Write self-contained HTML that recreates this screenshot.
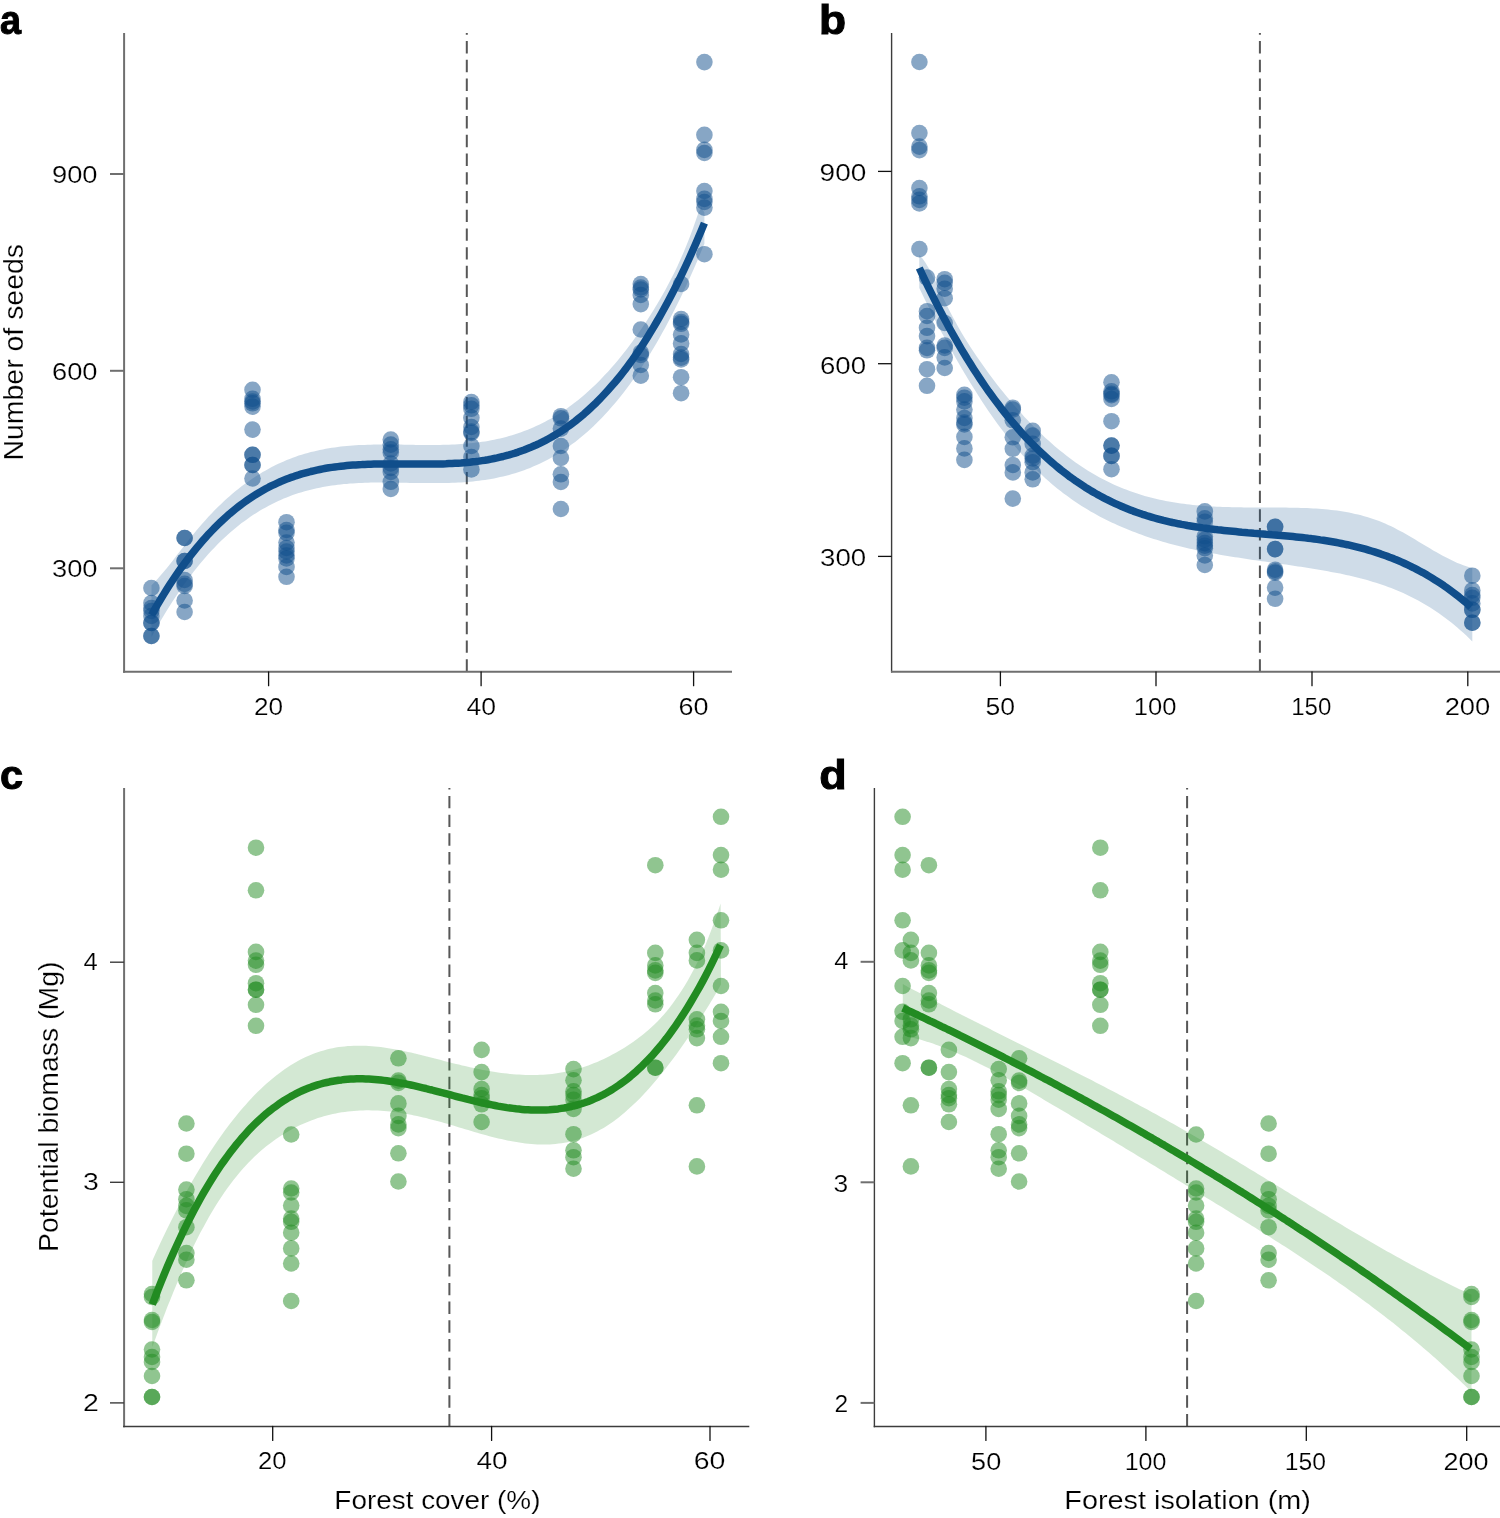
<!DOCTYPE html><html><head><meta charset="utf-8"><style>html,body{margin:0;padding:0;background:#fff;overflow:hidden;}svg{display:block;will-change:transform;}text{font-family:"Liberation Sans",sans-serif;}</style></head><body>
<svg width="1500" height="1518" viewBox="0 0 1500 1518">
<rect width="1500" height="1518" fill="#fff"/>
<line x1="466.8" y1="671.6" x2="466.8" y2="33.0" stroke="#575757" stroke-width="2" stroke-dasharray="12.4 6.33"/>
<path d="M151.5,585.2 L154.5,582.2 L157.5,578.9 L160.5,575.6 L163.5,572.1 L166.5,568.4 L169.5,564.7 L172.5,560.9 L175.5,557.0 L178.5,553.1 L181.5,549.2 L184.6,545.3 L187.6,541.4 L190.6,537.6 L193.6,533.9 L196.6,530.2 L199.6,526.7 L202.6,523.2 L205.6,519.9 L208.6,516.6 L211.6,513.4 L214.6,510.3 L217.6,507.3 L220.6,504.4 L223.6,501.6 L226.6,498.8 L229.6,496.2 L232.6,493.6 L235.6,491.1 L238.6,488.7 L241.6,486.3 L244.7,484.1 L247.7,481.9 L250.7,479.8 L253.7,477.7 L256.7,475.8 L259.7,473.9 L262.7,472.1 L265.7,470.4 L268.7,468.7 L271.7,467.1 L274.7,465.6 L277.7,464.1 L280.7,462.7 L283.7,461.4 L286.7,460.1 L289.7,458.9 L292.7,457.8 L295.7,456.7 L298.7,455.6 L301.7,454.7 L304.7,453.8 L307.8,452.9 L310.8,452.1 L313.8,451.4 L316.8,450.7 L319.8,450.0 L322.8,449.4 L325.8,448.8 L328.8,448.3 L331.8,447.8 L334.8,447.4 L337.8,447.0 L340.8,446.6 L343.8,446.3 L346.8,446.0 L349.8,445.7 L352.8,445.5 L355.8,445.3 L358.8,445.1 L361.8,445.0 L364.8,444.9 L367.9,444.8 L370.9,444.7 L373.9,444.6 L376.9,444.6 L379.9,444.5 L382.9,444.5 L385.9,444.5 L388.9,444.5 L391.9,444.5 L394.9,444.6 L397.9,444.6 L400.9,444.6 L403.9,444.7 L406.9,444.7 L409.9,444.8 L412.9,444.8 L415.9,444.9 L418.9,444.9 L421.9,444.9 L424.9,445.0 L427.9,445.0 L431.0,445.0 L434.0,445.0 L437.0,444.9 L440.0,444.9 L443.0,444.8 L446.0,444.8 L449.0,444.7 L452.0,444.6 L455.0,444.4 L458.0,444.2 L461.0,444.1 L464.0,443.8 L467.0,443.6 L470.0,443.3 L473.0,443.0 L476.0,442.6 L479.0,442.3 L482.0,441.8 L485.0,441.4 L488.0,440.9 L491.1,440.3 L494.1,439.7 L497.1,439.1 L500.1,438.4 L503.1,437.7 L506.1,436.9 L509.1,436.1 L512.1,435.2 L515.1,434.3 L518.1,433.3 L521.1,432.2 L524.1,431.1 L527.1,430.0 L530.1,428.7 L533.1,427.4 L536.1,426.1 L539.1,424.7 L542.1,423.2 L545.1,421.7 L548.1,420.1 L551.2,418.4 L554.2,416.6 L557.2,414.8 L560.2,412.9 L563.2,410.9 L566.2,408.9 L569.2,406.7 L572.2,404.5 L575.2,402.3 L578.2,399.9 L581.2,397.4 L584.2,394.9 L587.2,392.3 L590.2,389.6 L593.2,386.8 L596.2,383.9 L599.2,380.9 L602.2,377.8 L605.2,374.6 L608.2,371.4 L611.2,368.0 L614.3,364.5 L617.3,361.0 L620.3,357.3 L623.3,353.6 L626.3,349.7 L629.3,345.7 L632.3,341.7 L635.3,337.5 L638.3,333.3 L641.3,328.9 L644.3,324.5 L647.3,319.9 L650.3,315.3 L653.3,310.5 L656.3,305.6 L659.3,300.5 L662.3,295.3 L665.3,289.9 L668.3,284.3 L671.3,278.5 L674.4,272.5 L677.4,266.2 L680.4,259.6 L683.4,252.7 L686.4,245.5 L689.4,237.9 L692.4,229.9 L695.4,221.5 L698.4,212.7 L701.4,207.3 L704.4,212.5 L704.4,243.8 L701.4,251.1 L698.4,258.2 L695.4,265.2 L692.4,272.0 L689.4,278.7 L686.4,285.3 L683.4,291.7 L680.4,298.0 L677.4,304.1 L674.4,310.1 L671.3,316.0 L668.3,321.8 L665.3,327.4 L662.3,332.8 L659.3,338.2 L656.3,343.4 L653.3,348.5 L650.3,353.5 L647.3,358.3 L644.3,363.1 L641.3,367.7 L638.3,372.2 L635.3,376.5 L632.3,380.8 L629.3,384.9 L626.3,389.0 L623.3,392.9 L620.3,396.7 L617.3,400.4 L614.3,404.0 L611.2,407.5 L608.2,410.9 L605.2,414.2 L602.2,417.4 L599.2,420.5 L596.2,423.5 L593.2,426.4 L590.2,429.2 L587.2,431.9 L584.2,434.5 L581.2,437.1 L578.2,439.5 L575.2,441.9 L572.2,444.1 L569.2,446.3 L566.2,448.4 L563.2,450.5 L560.2,452.4 L557.2,454.3 L554.2,456.1 L551.2,457.8 L548.1,459.4 L545.1,461.0 L542.1,462.5 L539.1,464.0 L536.1,465.3 L533.1,466.6 L530.1,467.9 L527.1,469.1 L524.1,470.2 L521.1,471.2 L518.1,472.2 L515.1,473.2 L512.1,474.1 L509.1,474.9 L506.1,475.7 L503.1,476.5 L500.1,477.1 L497.1,477.8 L494.1,478.4 L491.1,478.9 L488.0,479.4 L485.0,479.9 L482.0,480.3 L479.0,480.7 L476.0,481.1 L473.0,481.4 L470.0,481.7 L467.0,482.0 L464.0,482.2 L461.0,482.4 L458.0,482.6 L455.0,482.7 L452.0,482.8 L449.0,482.9 L446.0,483.0 L443.0,483.1 L440.0,483.1 L437.0,483.1 L434.0,483.1 L431.0,483.1 L427.9,483.1 L424.9,483.1 L421.9,483.1 L418.9,483.0 L415.9,483.0 L412.9,482.9 L409.9,482.9 L406.9,482.8 L403.9,482.8 L400.9,482.7 L397.9,482.7 L394.9,482.6 L391.9,482.6 L388.9,482.6 L385.9,482.5 L382.9,482.5 L379.9,482.5 L376.9,482.6 L373.9,482.6 L370.9,482.6 L367.9,482.7 L364.8,482.8 L361.8,482.9 L358.8,483.1 L355.8,483.2 L352.8,483.4 L349.8,483.6 L346.8,483.9 L343.8,484.1 L340.8,484.5 L337.8,484.8 L334.8,485.2 L331.8,485.6 L328.8,486.1 L325.8,486.6 L322.8,487.1 L319.8,487.7 L316.8,488.3 L313.8,489.0 L310.8,489.7 L307.8,490.5 L304.7,491.3 L301.7,492.2 L298.7,493.1 L295.7,494.1 L292.7,495.1 L289.7,496.2 L286.7,497.4 L283.7,498.6 L280.7,499.9 L277.7,501.3 L274.7,502.7 L271.7,504.2 L268.7,505.7 L265.7,507.4 L262.7,509.1 L259.7,510.8 L256.7,512.7 L253.7,514.6 L250.7,516.6 L247.7,518.7 L244.7,520.9 L241.6,523.1 L238.6,525.5 L235.6,527.9 L232.6,530.4 L229.6,533.0 L226.6,535.7 L223.6,538.5 L220.6,541.3 L217.6,544.3 L214.6,547.4 L211.6,550.6 L208.6,553.8 L205.6,557.2 L202.6,560.7 L199.6,564.3 L196.6,567.9 L193.6,571.7 L190.6,575.7 L187.6,579.7 L184.6,583.8 L181.5,588.0 L178.5,592.4 L175.5,596.9 L172.5,601.5 L169.5,606.2 L166.5,611.0 L163.5,616.0 L160.5,621.1 L157.5,626.3 L154.5,631.6 L151.5,637.1 Z" fill="#104E8B" fill-opacity="0.2"/>
<g fill="#104E8B" fill-opacity="0.5">
<circle cx="151.4" cy="588.0" r="8.3"/>
<circle cx="151.4" cy="603.0" r="8.3"/>
<circle cx="151.4" cy="608.0" r="8.3"/>
<circle cx="151.4" cy="611.0" r="8.3"/>
<circle cx="151.4" cy="616.0" r="8.3"/>
<circle cx="151.4" cy="623.0" r="8.3"/>
<circle cx="151.4" cy="623.0" r="8.3"/>
<circle cx="151.4" cy="636.0" r="8.3"/>
<circle cx="151.4" cy="636.0" r="8.3"/>
<circle cx="184.6" cy="538.0" r="8.3"/>
<circle cx="184.6" cy="538.0" r="8.3"/>
<circle cx="184.6" cy="561.0" r="8.3"/>
<circle cx="184.6" cy="561.0" r="8.3"/>
<circle cx="184.6" cy="580.0" r="8.3"/>
<circle cx="184.6" cy="583.9" r="8.3"/>
<circle cx="184.6" cy="586.0" r="8.3"/>
<circle cx="184.6" cy="600.5" r="8.3"/>
<circle cx="184.6" cy="612.0" r="8.3"/>
<circle cx="252.5" cy="389.8" r="8.3"/>
<circle cx="252.5" cy="398.8" r="8.3"/>
<circle cx="252.5" cy="401.5" r="8.3"/>
<circle cx="252.5" cy="403.3" r="8.3"/>
<circle cx="252.5" cy="406.6" r="8.3"/>
<circle cx="252.5" cy="429.6" r="8.3"/>
<circle cx="252.5" cy="454.8" r="8.3"/>
<circle cx="252.5" cy="454.8" r="8.3"/>
<circle cx="252.5" cy="465.0" r="8.3"/>
<circle cx="252.5" cy="465.0" r="8.3"/>
<circle cx="252.5" cy="478.5" r="8.3"/>
<circle cx="286.5" cy="522.2" r="8.3"/>
<circle cx="286.5" cy="530.0" r="8.3"/>
<circle cx="286.5" cy="532.8" r="8.3"/>
<circle cx="286.5" cy="542.5" r="8.3"/>
<circle cx="286.5" cy="548.0" r="8.3"/>
<circle cx="286.5" cy="551.5" r="8.3"/>
<circle cx="286.5" cy="555.5" r="8.3"/>
<circle cx="286.5" cy="558.4" r="8.3"/>
<circle cx="286.5" cy="566.9" r="8.3"/>
<circle cx="286.5" cy="576.8" r="8.3"/>
<circle cx="390.8" cy="439.5" r="8.3"/>
<circle cx="390.8" cy="444.6" r="8.3"/>
<circle cx="390.8" cy="449.3" r="8.3"/>
<circle cx="390.8" cy="452.5" r="8.3"/>
<circle cx="390.8" cy="463.5" r="8.3"/>
<circle cx="390.8" cy="468.0" r="8.3"/>
<circle cx="390.8" cy="471.9" r="8.3"/>
<circle cx="390.8" cy="481.8" r="8.3"/>
<circle cx="390.8" cy="489.0" r="8.3"/>
<circle cx="471.4" cy="402.0" r="8.3"/>
<circle cx="471.4" cy="405.3" r="8.3"/>
<circle cx="471.4" cy="408.8" r="8.3"/>
<circle cx="471.4" cy="417.8" r="8.3"/>
<circle cx="471.4" cy="427.0" r="8.3"/>
<circle cx="471.4" cy="431.6" r="8.3"/>
<circle cx="471.4" cy="433.0" r="8.3"/>
<circle cx="471.4" cy="446.0" r="8.3"/>
<circle cx="471.4" cy="457.0" r="8.3"/>
<circle cx="471.4" cy="469.4" r="8.3"/>
<circle cx="560.9" cy="416.2" r="8.3"/>
<circle cx="560.9" cy="418.3" r="8.3"/>
<circle cx="560.9" cy="428.6" r="8.3"/>
<circle cx="560.9" cy="446.0" r="8.3"/>
<circle cx="560.9" cy="458.0" r="8.3"/>
<circle cx="560.9" cy="474.3" r="8.3"/>
<circle cx="560.9" cy="482.0" r="8.3"/>
<circle cx="560.9" cy="509.0" r="8.3"/>
<circle cx="640.8" cy="284.0" r="8.3"/>
<circle cx="640.8" cy="287.5" r="8.3"/>
<circle cx="640.8" cy="289.5" r="8.3"/>
<circle cx="640.8" cy="295.0" r="8.3"/>
<circle cx="640.8" cy="304.1" r="8.3"/>
<circle cx="640.8" cy="329.5" r="8.3"/>
<circle cx="640.8" cy="352.7" r="8.3"/>
<circle cx="640.8" cy="355.0" r="8.3"/>
<circle cx="640.8" cy="365.0" r="8.3"/>
<circle cx="640.8" cy="375.7" r="8.3"/>
<circle cx="681.1" cy="284.0" r="8.3"/>
<circle cx="681.1" cy="319.0" r="8.3"/>
<circle cx="681.1" cy="322.0" r="8.3"/>
<circle cx="681.1" cy="323.8" r="8.3"/>
<circle cx="681.1" cy="334.5" r="8.3"/>
<circle cx="681.1" cy="343.4" r="8.3"/>
<circle cx="681.1" cy="354.0" r="8.3"/>
<circle cx="681.1" cy="357.6" r="8.3"/>
<circle cx="681.1" cy="359.4" r="8.3"/>
<circle cx="681.1" cy="377.2" r="8.3"/>
<circle cx="681.1" cy="393.2" r="8.3"/>
<circle cx="704.4" cy="62.1" r="8.3"/>
<circle cx="704.4" cy="134.9" r="8.3"/>
<circle cx="704.4" cy="149.9" r="8.3"/>
<circle cx="704.4" cy="153.0" r="8.3"/>
<circle cx="704.4" cy="191.0" r="8.3"/>
<circle cx="704.4" cy="198.9" r="8.3"/>
<circle cx="704.4" cy="202.0" r="8.3"/>
<circle cx="704.4" cy="207.6" r="8.3"/>
<circle cx="704.4" cy="254.2" r="8.3"/>
</g>
<path d="M151.5,615.1 L154.5,609.8 L157.5,604.6 L160.5,599.5 L163.5,594.6 L166.5,589.8 L169.5,585.1 L172.5,580.5 L175.5,576.0 L178.5,571.7 L181.5,567.4 L184.6,563.3 L187.6,559.3 L190.6,555.4 L193.6,551.6 L196.6,547.9 L199.6,544.3 L202.6,540.8 L205.6,537.4 L208.6,534.1 L211.6,531.0 L214.6,527.9 L217.6,524.9 L220.6,522.0 L223.6,519.2 L226.6,516.5 L229.6,513.8 L232.6,511.3 L235.6,508.9 L238.6,506.5 L241.6,504.2 L244.7,502.0 L247.7,499.9 L250.7,497.9 L253.7,495.9 L256.7,494.0 L259.7,492.2 L262.7,490.5 L265.7,488.8 L268.7,487.2 L271.7,485.7 L274.7,484.3 L277.7,482.9 L280.7,481.5 L283.7,480.3 L286.7,479.1 L289.7,477.9 L292.7,476.9 L295.7,475.8 L298.7,474.9 L301.7,473.9 L304.7,473.1 L307.8,472.3 L310.8,471.5 L313.8,470.8 L316.8,470.1 L319.8,469.5 L322.8,468.9 L325.8,468.3 L328.8,467.8 L331.8,467.4 L334.8,467.0 L337.8,466.6 L340.8,466.2 L343.8,465.9 L346.8,465.6 L349.8,465.3 L352.8,465.1 L355.8,464.9 L358.8,464.7 L361.8,464.6 L364.8,464.4 L367.9,464.3 L370.9,464.2 L373.9,464.1 L376.9,464.1 L379.9,464.0 L382.9,464.0 L385.9,464.0 L388.9,464.0 L391.9,464.0 L394.9,464.0 L397.9,464.0 L400.9,464.0 L403.9,464.0 L406.9,464.1 L409.9,464.1 L412.9,464.1 L415.9,464.1 L418.9,464.1 L421.9,464.1 L424.9,464.1 L427.9,464.1 L431.0,464.1 L434.0,464.1 L437.0,464.0 L440.0,463.9 L443.0,463.9 L446.0,463.8 L449.0,463.6 L452.0,463.5 L455.0,463.3 L458.0,463.2 L461.0,463.0 L464.0,462.7 L467.0,462.4 L470.0,462.2 L473.0,461.8 L476.0,461.5 L479.0,461.1 L482.0,460.6 L485.0,460.2 L488.0,459.7 L491.1,459.1 L494.1,458.5 L497.1,457.9 L500.1,457.2 L503.1,456.5 L506.1,455.7 L509.1,454.9 L512.1,454.0 L515.1,453.1 L518.1,452.1 L521.1,451.0 L524.1,450.0 L527.1,448.8 L530.1,447.6 L533.1,446.3 L536.1,445.0 L539.1,443.6 L542.1,442.1 L545.1,440.6 L548.1,439.0 L551.2,437.3 L554.2,435.5 L557.2,433.7 L560.2,431.8 L563.2,429.8 L566.2,427.8 L569.2,425.7 L572.2,423.4 L575.2,421.2 L578.2,418.8 L581.2,416.3 L584.2,413.8 L587.2,411.1 L590.2,408.4 L593.2,405.6 L596.2,402.7 L599.2,399.6 L602.2,396.5 L605.2,393.3 L608.2,390.0 L611.2,386.6 L614.3,383.1 L617.3,379.5 L620.3,375.8 L623.3,372.0 L626.3,368.1 L629.3,364.0 L632.3,359.9 L635.3,355.6 L638.3,351.3 L641.3,346.8 L644.3,342.2 L647.3,337.4 L650.3,332.6 L653.3,327.6 L656.3,322.5 L659.3,317.3 L662.3,312.0 L665.3,306.5 L668.3,300.9 L671.3,295.2 L674.4,289.3 L677.4,283.3 L680.4,277.2 L683.4,270.9 L686.4,264.5 L689.4,258.0 L692.4,251.3 L695.4,244.5 L698.4,237.5 L701.4,230.4 L704.4,223.1" fill="none" stroke="#104E8B" stroke-width="7.5" stroke-linecap="butt" stroke-linejoin="round"/>
<line x1="1259.9" y1="671.6" x2="1259.9" y2="33.0" stroke="#575757" stroke-width="2" stroke-dasharray="12.4 6.33"/>
<path d="M919.3,254.9 L922.3,258.3 L925.3,262.4 L928.3,267.4 L931.3,272.9 L934.3,278.8 L937.3,285.1 L940.3,291.5 L943.3,298.0 L946.3,304.3 L949.4,310.4 L952.4,316.2 L955.4,321.8 L958.4,327.2 L961.4,332.4 L964.4,337.4 L967.4,342.3 L970.4,347.0 L973.4,351.5 L976.4,356.0 L979.4,360.3 L982.4,364.6 L985.4,368.8 L988.4,372.9 L991.4,377.0 L994.4,381.0 L997.4,384.9 L1000.4,388.7 L1003.5,392.5 L1006.5,396.2 L1009.5,399.8 L1012.5,403.4 L1015.5,406.8 L1018.5,410.3 L1021.5,413.6 L1024.5,416.9 L1027.5,420.1 L1030.5,423.2 L1033.5,426.3 L1036.5,429.3 L1039.5,432.2 L1042.5,435.1 L1045.5,437.9 L1048.5,440.6 L1051.5,443.3 L1054.5,445.9 L1057.5,448.5 L1060.6,450.9 L1063.6,453.3 L1066.6,455.7 L1069.6,458.0 L1072.6,460.2 L1075.6,462.4 L1078.6,464.4 L1081.6,466.5 L1084.6,468.5 L1087.6,470.4 L1090.6,472.2 L1093.6,474.0 L1096.6,475.7 L1099.6,477.4 L1102.6,479.0 L1105.6,480.6 L1108.6,482.0 L1111.6,483.5 L1114.7,484.9 L1117.7,486.2 L1120.7,487.5 L1123.7,488.7 L1126.7,489.8 L1129.7,491.0 L1132.7,492.0 L1135.7,493.1 L1138.7,494.0 L1141.7,495.0 L1144.7,495.9 L1147.7,496.7 L1150.7,497.5 L1153.7,498.3 L1156.7,499.0 L1159.7,499.7 L1162.7,500.3 L1165.7,500.9 L1168.8,501.5 L1171.8,502.0 L1174.8,502.5 L1177.8,503.0 L1180.8,503.4 L1183.8,503.8 L1186.8,504.2 L1189.8,504.6 L1192.8,504.9 L1195.8,505.2 L1198.8,505.5 L1201.8,505.7 L1204.8,506.0 L1207.8,506.2 L1210.8,506.4 L1213.8,506.5 L1216.8,506.7 L1219.8,506.8 L1222.8,506.9 L1225.9,507.0 L1228.9,507.1 L1231.9,507.2 L1234.9,507.2 L1237.9,507.3 L1240.9,507.3 L1243.9,507.4 L1246.9,507.4 L1249.9,507.4 L1252.9,507.4 L1255.9,507.5 L1258.9,507.5 L1261.9,507.5 L1264.9,507.5 L1267.9,507.5 L1270.9,507.5 L1273.9,507.5 L1276.9,507.5 L1280.0,507.6 L1283.0,507.6 L1286.0,507.6 L1289.0,507.7 L1292.0,507.7 L1295.0,507.8 L1298.0,507.8 L1301.0,507.9 L1304.0,508.0 L1307.0,508.1 L1310.0,508.3 L1313.0,508.4 L1316.0,508.6 L1319.0,508.8 L1322.0,509.0 L1325.0,509.3 L1328.0,509.6 L1331.0,509.9 L1334.0,510.3 L1337.1,510.6 L1340.1,511.1 L1343.1,511.5 L1346.1,512.1 L1349.1,512.6 L1352.1,513.2 L1355.1,513.9 L1358.1,514.6 L1361.1,515.3 L1364.1,516.2 L1367.1,517.0 L1370.1,518.0 L1373.1,519.0 L1376.1,520.0 L1379.1,521.1 L1382.1,522.3 L1385.1,523.6 L1388.1,524.9 L1391.2,526.3 L1394.2,527.8 L1397.2,529.4 L1400.2,531.0 L1403.2,532.6 L1406.2,534.3 L1409.2,536.0 L1412.2,537.8 L1415.2,539.6 L1418.2,541.4 L1421.2,543.2 L1424.2,545.0 L1427.2,546.8 L1430.2,548.6 L1433.2,550.4 L1436.2,552.1 L1439.2,553.8 L1442.2,555.5 L1445.3,557.1 L1448.3,558.6 L1451.3,560.1 L1454.3,561.5 L1457.3,562.9 L1460.3,564.1 L1463.3,565.3 L1466.3,566.3 L1469.3,567.3 L1472.3,568.1 L1472.3,641.4 L1469.3,638.4 L1466.3,635.6 L1463.3,632.8 L1460.3,630.2 L1457.3,627.6 L1454.3,625.0 L1451.3,622.6 L1448.3,620.3 L1445.3,618.0 L1442.2,615.8 L1439.2,613.6 L1436.2,611.6 L1433.2,609.6 L1430.2,607.6 L1427.2,605.8 L1424.2,604.0 L1421.2,602.3 L1418.2,600.6 L1415.2,599.0 L1412.2,597.4 L1409.2,595.9 L1406.2,594.5 L1403.2,593.1 L1400.2,591.8 L1397.2,590.5 L1394.2,589.3 L1391.2,588.1 L1388.1,586.9 L1385.1,585.8 L1382.1,584.8 L1379.1,583.8 L1376.1,582.8 L1373.1,581.9 L1370.1,581.0 L1367.1,580.1 L1364.1,579.3 L1361.1,578.5 L1358.1,577.7 L1355.1,577.0 L1352.1,576.3 L1349.1,575.6 L1346.1,574.9 L1343.1,574.3 L1340.1,573.6 L1337.1,573.0 L1334.0,572.5 L1331.0,571.9 L1328.0,571.3 L1325.0,570.8 L1322.0,570.3 L1319.0,569.7 L1316.0,569.2 L1313.0,568.7 L1310.0,568.3 L1307.0,567.8 L1304.0,567.3 L1301.0,566.8 L1298.0,566.4 L1295.0,565.9 L1292.0,565.5 L1289.0,565.1 L1286.0,564.6 L1283.0,564.2 L1280.0,563.8 L1276.9,563.3 L1273.9,562.9 L1270.9,562.5 L1267.9,562.1 L1264.9,561.6 L1261.9,561.2 L1258.9,560.8 L1255.9,560.3 L1252.9,559.9 L1249.9,559.5 L1246.9,559.0 L1243.9,558.6 L1240.9,558.1 L1237.9,557.6 L1234.9,557.2 L1231.9,556.7 L1228.9,556.2 L1225.9,555.7 L1222.8,555.2 L1219.8,554.7 L1216.8,554.1 L1213.8,553.6 L1210.8,553.0 L1207.8,552.5 L1204.8,551.9 L1201.8,551.3 L1198.8,550.6 L1195.8,550.0 L1192.8,549.3 L1189.8,548.7 L1186.8,548.0 L1183.8,547.3 L1180.8,546.5 L1177.8,545.8 L1174.8,545.0 L1171.8,544.2 L1168.8,543.4 L1165.7,542.5 L1162.7,541.7 L1159.7,540.8 L1156.7,539.8 L1153.7,538.9 L1150.7,537.9 L1147.7,536.9 L1144.7,535.9 L1141.7,534.8 L1138.7,533.7 L1135.7,532.6 L1132.7,531.4 L1129.7,530.3 L1126.7,529.0 L1123.7,527.8 L1120.7,526.5 L1117.7,525.2 L1114.7,523.8 L1111.6,522.4 L1108.6,521.0 L1105.6,519.5 L1102.6,518.0 L1099.6,516.4 L1096.6,514.8 L1093.6,513.1 L1090.6,511.4 L1087.6,509.6 L1084.6,507.8 L1081.6,505.9 L1078.6,504.0 L1075.6,502.0 L1072.6,499.9 L1069.6,497.8 L1066.6,495.6 L1063.6,493.4 L1060.6,491.0 L1057.5,488.7 L1054.5,486.2 L1051.5,483.7 L1048.5,481.0 L1045.5,478.4 L1042.5,475.6 L1039.5,472.7 L1036.5,469.8 L1033.5,466.8 L1030.5,463.7 L1027.5,460.5 L1024.5,457.2 L1021.5,453.9 L1018.5,450.4 L1015.5,446.9 L1012.5,443.2 L1009.5,439.5 L1006.5,435.7 L1003.5,431.8 L1000.4,427.8 L997.4,423.7 L994.4,419.5 L991.4,415.2 L988.4,410.9 L985.4,406.4 L982.4,401.9 L979.4,397.3 L976.4,392.6 L973.4,387.8 L970.4,383.0 L967.4,378.0 L964.4,373.0 L961.4,367.9 L958.4,362.7 L955.4,357.5 L952.4,352.1 L949.4,346.7 L946.3,341.2 L943.3,335.6 L940.3,329.9 L937.3,324.2 L934.3,318.4 L931.3,312.5 L928.3,306.5 L925.3,300.4 L922.3,294.3 L919.3,288.1 Z" fill="#104E8B" fill-opacity="0.2"/>
<g fill="#104E8B" fill-opacity="0.5">
<circle cx="919.4" cy="62.0" r="8.3"/>
<circle cx="919.4" cy="133.1" r="8.3"/>
<circle cx="919.4" cy="146.6" r="8.3"/>
<circle cx="919.4" cy="150.1" r="8.3"/>
<circle cx="919.4" cy="188.0" r="8.3"/>
<circle cx="919.4" cy="196.3" r="8.3"/>
<circle cx="919.4" cy="199.9" r="8.3"/>
<circle cx="919.4" cy="203.4" r="8.3"/>
<circle cx="919.4" cy="249.1" r="8.3"/>
<circle cx="927.0" cy="277.6" r="8.3"/>
<circle cx="927.0" cy="311.2" r="8.3"/>
<circle cx="927.0" cy="316.0" r="8.3"/>
<circle cx="927.0" cy="327.8" r="8.3"/>
<circle cx="927.0" cy="336.1" r="8.3"/>
<circle cx="927.0" cy="347.9" r="8.3"/>
<circle cx="927.0" cy="350.3" r="8.3"/>
<circle cx="927.0" cy="369.2" r="8.3"/>
<circle cx="927.0" cy="385.8" r="8.3"/>
<circle cx="944.7" cy="279.2" r="8.3"/>
<circle cx="944.7" cy="282.8" r="8.3"/>
<circle cx="944.7" cy="288.7" r="8.3"/>
<circle cx="944.7" cy="298.2" r="8.3"/>
<circle cx="944.7" cy="323.0" r="8.3"/>
<circle cx="944.7" cy="345.5" r="8.3"/>
<circle cx="944.7" cy="347.9" r="8.3"/>
<circle cx="944.7" cy="357.4" r="8.3"/>
<circle cx="944.7" cy="368.0" r="8.3"/>
<circle cx="964.4" cy="394.9" r="8.3"/>
<circle cx="964.4" cy="397.7" r="8.3"/>
<circle cx="964.4" cy="401.4" r="8.3"/>
<circle cx="964.4" cy="409.6" r="8.3"/>
<circle cx="964.4" cy="418.0" r="8.3"/>
<circle cx="964.4" cy="422.6" r="8.3"/>
<circle cx="964.4" cy="424.4" r="8.3"/>
<circle cx="964.4" cy="436.9" r="8.3"/>
<circle cx="964.4" cy="448.4" r="8.3"/>
<circle cx="964.4" cy="459.9" r="8.3"/>
<circle cx="1012.8" cy="407.8" r="8.3"/>
<circle cx="1012.8" cy="409.6" r="8.3"/>
<circle cx="1012.8" cy="420.3" r="8.3"/>
<circle cx="1012.8" cy="437.3" r="8.3"/>
<circle cx="1012.8" cy="448.8" r="8.3"/>
<circle cx="1012.8" cy="465.0" r="8.3"/>
<circle cx="1012.8" cy="472.4" r="8.3"/>
<circle cx="1012.8" cy="498.6" r="8.3"/>
<circle cx="1032.7" cy="430.9" r="8.3"/>
<circle cx="1032.7" cy="435.5" r="8.3"/>
<circle cx="1032.7" cy="443.8" r="8.3"/>
<circle cx="1032.7" cy="455.8" r="8.3"/>
<circle cx="1032.7" cy="458.5" r="8.3"/>
<circle cx="1032.7" cy="462.2" r="8.3"/>
<circle cx="1032.7" cy="472.4" r="8.3"/>
<circle cx="1032.7" cy="479.3" r="8.3"/>
<circle cx="1111.5" cy="382.3" r="8.3"/>
<circle cx="1111.5" cy="391.3" r="8.3"/>
<circle cx="1111.5" cy="393.8" r="8.3"/>
<circle cx="1111.5" cy="395.1" r="8.3"/>
<circle cx="1111.5" cy="399.0" r="8.3"/>
<circle cx="1111.5" cy="421.2" r="8.3"/>
<circle cx="1111.5" cy="445.6" r="8.3"/>
<circle cx="1111.5" cy="445.6" r="8.3"/>
<circle cx="1111.5" cy="455.9" r="8.3"/>
<circle cx="1111.5" cy="455.9" r="8.3"/>
<circle cx="1111.5" cy="469.2" r="8.3"/>
<circle cx="1204.8" cy="511.4" r="8.3"/>
<circle cx="1204.8" cy="518.3" r="8.3"/>
<circle cx="1204.8" cy="521.7" r="8.3"/>
<circle cx="1204.8" cy="536.3" r="8.3"/>
<circle cx="1204.8" cy="539.7" r="8.3"/>
<circle cx="1204.8" cy="543.1" r="8.3"/>
<circle cx="1204.8" cy="545.7" r="8.3"/>
<circle cx="1204.8" cy="548.2" r="8.3"/>
<circle cx="1204.8" cy="555.5" r="8.3"/>
<circle cx="1204.8" cy="565.0" r="8.3"/>
<circle cx="1275.1" cy="526.8" r="8.3"/>
<circle cx="1275.1" cy="526.8" r="8.3"/>
<circle cx="1275.1" cy="549.1" r="8.3"/>
<circle cx="1275.1" cy="549.1" r="8.3"/>
<circle cx="1275.1" cy="569.7" r="8.3"/>
<circle cx="1275.1" cy="571.4" r="8.3"/>
<circle cx="1275.1" cy="572.7" r="8.3"/>
<circle cx="1275.1" cy="587.6" r="8.3"/>
<circle cx="1275.1" cy="598.8" r="8.3"/>
<circle cx="1472.3" cy="575.7" r="8.3"/>
<circle cx="1472.3" cy="590.4" r="8.3"/>
<circle cx="1472.3" cy="595.0" r="8.3"/>
<circle cx="1472.3" cy="597.8" r="8.3"/>
<circle cx="1472.3" cy="603.4" r="8.3"/>
<circle cx="1472.3" cy="609.8" r="8.3"/>
<circle cx="1472.3" cy="609.8" r="8.3"/>
<circle cx="1472.3" cy="622.7" r="8.3"/>
<circle cx="1472.3" cy="622.7" r="8.3"/>
</g>
<path d="M919.3,268.0 L922.3,274.5 L925.3,280.9 L928.3,287.2 L931.4,293.4 L934.4,299.4 L937.4,305.4 L940.4,311.2 L943.4,317.0 L946.4,322.6 L949.4,328.2 L952.5,333.6 L955.5,338.9 L958.5,344.2 L961.5,349.3 L964.5,354.3 L967.5,359.3 L970.6,364.1 L973.6,368.9 L976.6,373.6 L979.6,378.1 L982.6,382.6 L985.6,387.0 L988.6,391.3 L991.7,395.5 L994.7,399.6 L997.7,403.6 L1000.7,407.6 L1003.7,411.4 L1006.7,415.2 L1009.7,418.9 L1012.8,422.5 L1015.8,426.0 L1018.8,429.5 L1021.8,432.9 L1024.8,436.2 L1027.8,439.4 L1030.8,442.5 L1033.9,445.6 L1036.9,448.6 L1039.9,451.5 L1042.9,454.3 L1045.9,457.1 L1048.9,459.8 L1051.9,462.4 L1055.0,465.0 L1058.0,467.5 L1061.0,470.0 L1064.0,472.3 L1067.0,474.6 L1070.0,476.9 L1073.1,479.0 L1076.1,481.2 L1079.1,483.2 L1082.1,485.2 L1085.1,487.2 L1088.1,489.0 L1091.1,490.9 L1094.2,492.6 L1097.2,494.4 L1100.2,496.0 L1103.2,497.6 L1106.2,499.2 L1109.2,500.7 L1112.2,502.2 L1115.3,503.6 L1118.3,504.9 L1121.3,506.2 L1124.3,507.5 L1127.3,508.7 L1130.3,509.9 L1133.3,511.1 L1136.4,512.2 L1139.4,513.2 L1142.4,514.3 L1145.4,515.2 L1148.4,516.2 L1151.4,517.1 L1154.5,518.0 L1157.5,518.8 L1160.5,519.6 L1163.5,520.4 L1166.5,521.1 L1169.5,521.8 L1172.5,522.5 L1175.6,523.1 L1178.6,523.8 L1181.6,524.4 L1184.6,524.9 L1187.6,525.5 L1190.6,526.0 L1193.6,526.5 L1196.7,527.0 L1199.7,527.4 L1202.7,527.9 L1205.7,528.3 L1208.7,528.7 L1211.7,529.1 L1214.7,529.4 L1217.8,529.8 L1220.8,530.1 L1223.8,530.4 L1226.8,530.7 L1229.8,531.0 L1232.8,531.3 L1235.8,531.6 L1238.9,531.9 L1241.9,532.2 L1244.9,532.4 L1247.9,532.7 L1250.9,532.9 L1253.9,533.2 L1257.0,533.4 L1260.0,533.7 L1263.0,533.9 L1266.0,534.2 L1269.0,534.4 L1272.0,534.7 L1275.0,534.9 L1278.1,535.2 L1281.1,535.4 L1284.1,535.7 L1287.1,536.0 L1290.1,536.3 L1293.1,536.6 L1296.1,536.9 L1299.2,537.2 L1302.2,537.5 L1305.2,537.9 L1308.2,538.3 L1311.2,538.6 L1314.2,539.0 L1317.2,539.4 L1320.3,539.9 L1323.3,540.3 L1326.3,540.8 L1329.3,541.3 L1332.3,541.8 L1335.3,542.3 L1338.4,542.9 L1341.4,543.5 L1344.4,544.1 L1347.4,544.7 L1350.4,545.4 L1353.4,546.1 L1356.4,546.8 L1359.5,547.6 L1362.5,548.4 L1365.5,549.2 L1368.5,550.1 L1371.5,551.0 L1374.5,551.9 L1377.5,552.9 L1380.6,553.9 L1383.6,555.0 L1386.6,556.0 L1389.6,557.2 L1392.6,558.3 L1395.6,559.6 L1398.6,560.8 L1401.7,562.1 L1404.7,563.5 L1407.7,564.9 L1410.7,566.3 L1413.7,567.8 L1416.7,569.4 L1419.7,571.0 L1422.8,572.6 L1425.8,574.3 L1428.8,576.1 L1431.8,577.9 L1434.8,579.8 L1437.8,581.7 L1440.9,583.7 L1443.9,585.7 L1446.9,587.8 L1449.9,590.0 L1452.9,592.2 L1455.9,594.5 L1458.9,596.8 L1462.0,599.3 L1465.0,601.7 L1468.0,604.3 L1471.0,606.9" fill="none" stroke="#104E8B" stroke-width="7.5" stroke-linecap="butt" stroke-linejoin="round"/>
<line x1="449.4" y1="1426.4" x2="449.4" y2="788.0" stroke="#575757" stroke-width="2" stroke-dasharray="12.4 6.33"/>
<path d="M152.3,1260.7 L155.3,1254.0 L158.3,1247.5 L161.3,1241.0 L164.3,1234.7 L167.3,1228.5 L170.3,1222.4 L173.3,1216.4 L176.4,1210.6 L179.4,1204.8 L182.4,1199.1 L185.4,1193.6 L188.4,1188.1 L191.4,1182.8 L194.4,1177.6 L197.4,1172.4 L200.4,1167.4 L203.4,1162.5 L206.4,1157.7 L209.4,1153.0 L212.4,1148.4 L215.4,1144.0 L218.5,1139.6 L221.5,1135.3 L224.5,1131.1 L227.5,1127.1 L230.5,1123.1 L233.5,1119.3 L236.5,1115.5 L239.5,1111.8 L242.5,1108.3 L245.5,1104.9 L248.5,1101.5 L251.5,1098.3 L254.5,1095.1 L257.5,1092.1 L260.5,1089.2 L263.6,1086.3 L266.6,1083.6 L269.6,1081.0 L272.6,1078.4 L275.6,1076.0 L278.6,1073.7 L281.6,1071.4 L284.6,1069.3 L287.6,1067.3 L290.6,1065.3 L293.6,1063.5 L296.6,1061.7 L299.6,1060.1 L302.6,1058.5 L305.7,1057.1 L308.7,1055.7 L311.7,1054.5 L314.7,1053.3 L317.7,1052.2 L320.7,1051.3 L323.7,1050.4 L326.7,1049.6 L329.7,1048.8 L332.7,1048.2 L335.7,1047.6 L338.7,1047.1 L341.7,1046.7 L344.7,1046.4 L347.7,1046.1 L350.8,1045.9 L353.8,1045.8 L356.8,1045.7 L359.8,1045.7 L362.8,1045.7 L365.8,1045.8 L368.8,1046.0 L371.8,1046.2 L374.8,1046.5 L377.8,1046.8 L380.8,1047.1 L383.8,1047.5 L386.8,1047.9 L389.8,1048.4 L392.9,1048.9 L395.9,1049.5 L398.9,1050.0 L401.9,1050.6 L404.9,1051.3 L407.9,1051.9 L410.9,1052.6 L413.9,1053.3 L416.9,1054.0 L419.9,1054.7 L422.9,1055.5 L425.9,1056.2 L428.9,1057.0 L431.9,1057.8 L434.9,1058.6 L438.0,1059.3 L441.0,1060.1 L444.0,1060.9 L447.0,1061.7 L450.0,1062.4 L453.0,1063.2 L456.0,1063.9 L459.0,1064.6 L462.0,1065.4 L465.0,1066.1 L468.0,1066.8 L471.0,1067.4 L474.0,1068.1 L477.0,1068.7 L480.0,1069.3 L483.1,1069.9 L486.1,1070.5 L489.1,1071.0 L492.1,1071.5 L495.1,1072.0 L498.1,1072.4 L501.1,1072.9 L504.1,1073.2 L507.1,1073.6 L510.1,1073.9 L513.1,1074.2 L516.1,1074.4 L519.1,1074.6 L522.1,1074.8 L525.2,1074.9 L528.2,1075.0 L531.2,1075.0 L534.2,1075.0 L537.2,1075.0 L540.2,1074.8 L543.2,1074.7 L546.2,1074.5 L549.2,1074.2 L552.2,1073.9 L555.2,1073.5 L558.2,1073.1 L561.2,1072.6 L564.2,1072.0 L567.2,1071.4 L570.3,1070.7 L573.3,1070.0 L576.3,1069.2 L579.3,1068.3 L582.3,1067.4 L585.3,1066.4 L588.3,1065.4 L591.3,1064.3 L594.3,1063.1 L597.3,1061.9 L600.3,1060.5 L603.3,1059.2 L606.3,1057.7 L609.3,1056.2 L612.4,1054.6 L615.4,1053.0 L618.4,1051.3 L621.4,1049.5 L624.4,1047.7 L627.4,1045.7 L630.4,1043.7 L633.4,1041.7 L636.4,1039.5 L639.4,1037.3 L642.4,1034.9 L645.4,1032.5 L648.4,1029.9 L651.4,1027.2 L654.4,1024.4 L657.5,1021.4 L660.5,1018.2 L663.5,1014.9 L666.5,1011.4 L669.5,1007.7 L672.5,1003.8 L675.5,999.6 L678.5,995.3 L681.5,990.8 L684.5,986.0 L687.5,980.9 L690.5,975.6 L693.5,970.0 L696.5,964.1 L699.6,957.9 L702.6,951.3 L705.6,944.4 L708.6,937.0 L711.6,929.3 L714.6,921.2 L717.6,912.6 L720.6,903.6 L721.0,984.6 L718.0,989.8 L715.0,994.9 L712.0,1000.0 L709.0,1004.9 L706.0,1009.8 L702.9,1014.7 L699.9,1019.5 L696.9,1024.2 L693.9,1028.8 L690.9,1033.4 L687.9,1037.8 L684.9,1042.2 L681.9,1046.6 L678.9,1050.8 L675.9,1055.0 L672.9,1059.1 L669.8,1063.1 L666.8,1067.0 L663.8,1070.9 L660.8,1074.6 L657.8,1078.3 L654.8,1081.8 L651.8,1085.3 L648.8,1088.7 L645.8,1092.0 L642.8,1095.2 L639.8,1098.4 L636.7,1101.4 L633.7,1104.3 L630.7,1107.1 L627.7,1109.8 L624.7,1112.5 L621.7,1115.0 L618.7,1117.4 L615.7,1119.7 L612.7,1121.9 L609.7,1124.0 L606.7,1126.0 L603.6,1127.9 L600.6,1129.6 L597.6,1131.3 L594.6,1132.8 L591.6,1134.3 L588.6,1135.6 L585.6,1136.8 L582.6,1138.0 L579.6,1139.0 L576.6,1139.9 L573.6,1140.7 L570.6,1141.5 L567.5,1142.2 L564.5,1142.7 L561.5,1143.2 L558.5,1143.6 L555.5,1143.9 L552.5,1144.2 L549.5,1144.4 L546.5,1144.5 L543.5,1144.5 L540.5,1144.5 L537.5,1144.4 L534.4,1144.2 L531.4,1144.0 L528.4,1143.8 L525.4,1143.4 L522.4,1143.0 L519.4,1142.6 L516.4,1142.1 L513.4,1141.6 L510.4,1141.1 L507.4,1140.5 L504.4,1139.8 L501.3,1139.1 L498.3,1138.4 L495.3,1137.7 L492.3,1136.9 L489.3,1136.2 L486.3,1135.3 L483.3,1134.5 L480.3,1133.7 L477.3,1132.8 L474.3,1131.9 L471.3,1131.0 L468.2,1130.1 L465.2,1129.2 L462.2,1128.3 L459.2,1127.4 L456.2,1126.5 L453.2,1125.6 L450.2,1124.7 L447.2,1123.8 L444.2,1123.0 L441.2,1122.1 L438.2,1121.3 L435.1,1120.5 L432.1,1119.7 L429.1,1118.9 L426.1,1118.1 L423.1,1117.4 L420.1,1116.7 L417.1,1116.0 L414.1,1115.4 L411.1,1114.8 L408.1,1114.2 L405.1,1113.7 L402.0,1113.2 L399.0,1112.7 L396.0,1112.3 L393.0,1111.9 L390.0,1111.6 L387.0,1111.3 L384.0,1111.0 L381.0,1110.8 L378.0,1110.6 L375.0,1110.5 L372.0,1110.4 L368.9,1110.3 L365.9,1110.3 L362.9,1110.4 L359.9,1110.5 L356.9,1110.7 L353.9,1110.9 L350.9,1111.2 L347.9,1111.5 L344.9,1111.9 L341.9,1112.3 L338.9,1112.8 L335.8,1113.4 L332.8,1114.0 L329.8,1114.7 L326.8,1115.5 L323.8,1116.3 L320.8,1117.2 L317.8,1118.1 L314.8,1119.2 L311.8,1120.3 L308.8,1121.4 L305.8,1122.7 L302.7,1124.0 L299.7,1125.3 L296.7,1126.8 L293.7,1128.3 L290.7,1130.0 L287.7,1131.7 L284.7,1133.4 L281.7,1135.3 L278.7,1137.2 L275.7,1139.3 L272.7,1141.4 L269.7,1143.7 L266.6,1146.0 L263.6,1148.5 L260.6,1151.1 L257.6,1153.8 L254.6,1156.6 L251.6,1159.5 L248.6,1162.6 L245.6,1165.8 L242.6,1169.1 L239.6,1172.6 L236.6,1176.3 L233.5,1180.0 L230.5,1184.0 L227.5,1188.1 L224.5,1192.3 L221.5,1196.7 L218.5,1201.3 L215.5,1206.1 L212.5,1211.0 L209.5,1216.1 L206.5,1221.4 L203.5,1226.9 L200.4,1232.6 L197.4,1238.5 L194.4,1244.6 L191.4,1250.8 L188.4,1257.3 L185.4,1263.9 L182.4,1270.7 L179.4,1277.7 L176.4,1284.8 L173.4,1292.1 L170.4,1299.5 L167.3,1307.1 L164.3,1314.9 L161.3,1322.7 L158.3,1330.7 L155.3,1338.9 L152.3,1347.1 Z" fill="#228B22" fill-opacity="0.2"/>
<g fill="#228B22" fill-opacity="0.5">
<circle cx="152.0" cy="1294.0" r="8.3"/>
<circle cx="152.0" cy="1297.0" r="8.3"/>
<circle cx="152.0" cy="1320.0" r="8.3"/>
<circle cx="152.0" cy="1322.0" r="8.3"/>
<circle cx="152.0" cy="1349.5" r="8.3"/>
<circle cx="152.0" cy="1357.0" r="8.3"/>
<circle cx="152.0" cy="1362.0" r="8.3"/>
<circle cx="152.0" cy="1376.0" r="8.3"/>
<circle cx="152.0" cy="1397.0" r="8.3"/>
<circle cx="152.0" cy="1397.0" r="8.3"/>
<circle cx="186.4" cy="1123.5" r="8.3"/>
<circle cx="186.4" cy="1153.7" r="8.3"/>
<circle cx="186.4" cy="1189.6" r="8.3"/>
<circle cx="186.4" cy="1199.2" r="8.3"/>
<circle cx="186.4" cy="1205.9" r="8.3"/>
<circle cx="186.4" cy="1210.4" r="8.3"/>
<circle cx="186.4" cy="1227.2" r="8.3"/>
<circle cx="186.4" cy="1253.0" r="8.3"/>
<circle cx="186.4" cy="1259.7" r="8.3"/>
<circle cx="186.4" cy="1280.3" r="8.3"/>
<circle cx="256.0" cy="847.7" r="8.3"/>
<circle cx="256.0" cy="890.3" r="8.3"/>
<circle cx="256.0" cy="951.9" r="8.3"/>
<circle cx="256.0" cy="960.6" r="8.3"/>
<circle cx="256.0" cy="964.8" r="8.3"/>
<circle cx="256.0" cy="983.2" r="8.3"/>
<circle cx="256.0" cy="989.7" r="8.3"/>
<circle cx="256.0" cy="989.7" r="8.3"/>
<circle cx="256.0" cy="1004.8" r="8.3"/>
<circle cx="256.0" cy="1025.8" r="8.3"/>
<circle cx="291.2" cy="1134.5" r="8.3"/>
<circle cx="291.2" cy="1188.5" r="8.3"/>
<circle cx="291.2" cy="1192.5" r="8.3"/>
<circle cx="291.2" cy="1205.5" r="8.3"/>
<circle cx="291.2" cy="1218.5" r="8.3"/>
<circle cx="291.2" cy="1221.8" r="8.3"/>
<circle cx="291.2" cy="1232.7" r="8.3"/>
<circle cx="291.2" cy="1248.4" r="8.3"/>
<circle cx="291.2" cy="1263.5" r="8.3"/>
<circle cx="291.2" cy="1301.0" r="8.3"/>
<circle cx="398.4" cy="1058.3" r="8.3"/>
<circle cx="398.4" cy="1080.6" r="8.3"/>
<circle cx="398.4" cy="1082.9" r="8.3"/>
<circle cx="398.4" cy="1103.4" r="8.3"/>
<circle cx="398.4" cy="1115.9" r="8.3"/>
<circle cx="398.4" cy="1124.4" r="8.3"/>
<circle cx="398.4" cy="1128.1" r="8.3"/>
<circle cx="398.4" cy="1153.3" r="8.3"/>
<circle cx="398.4" cy="1181.5" r="8.3"/>
<circle cx="481.6" cy="1049.9" r="8.3"/>
<circle cx="481.6" cy="1072.1" r="8.3"/>
<circle cx="481.6" cy="1089.0" r="8.3"/>
<circle cx="481.6" cy="1095.1" r="8.3"/>
<circle cx="481.6" cy="1098.2" r="8.3"/>
<circle cx="481.6" cy="1104.3" r="8.3"/>
<circle cx="481.6" cy="1122.0" r="8.3"/>
<circle cx="573.5" cy="1069.1" r="8.3"/>
<circle cx="573.5" cy="1080.3" r="8.3"/>
<circle cx="573.5" cy="1091.3" r="8.3"/>
<circle cx="573.5" cy="1095.1" r="8.3"/>
<circle cx="573.5" cy="1099.7" r="8.3"/>
<circle cx="573.5" cy="1108.9" r="8.3"/>
<circle cx="573.5" cy="1134.2" r="8.3"/>
<circle cx="573.5" cy="1150.3" r="8.3"/>
<circle cx="573.5" cy="1157.2" r="8.3"/>
<circle cx="573.5" cy="1168.7" r="8.3"/>
<circle cx="655.3" cy="865.2" r="8.3"/>
<circle cx="655.3" cy="952.9" r="8.3"/>
<circle cx="655.3" cy="965.4" r="8.3"/>
<circle cx="655.3" cy="970.4" r="8.3"/>
<circle cx="655.3" cy="972.9" r="8.3"/>
<circle cx="655.3" cy="993.0" r="8.3"/>
<circle cx="655.3" cy="1000.5" r="8.3"/>
<circle cx="655.3" cy="1004.3" r="8.3"/>
<circle cx="655.3" cy="1067.7" r="8.3"/>
<circle cx="655.3" cy="1067.7" r="8.3"/>
<circle cx="696.9" cy="939.8" r="8.3"/>
<circle cx="696.9" cy="952.9" r="8.3"/>
<circle cx="696.9" cy="960.4" r="8.3"/>
<circle cx="696.9" cy="1019.3" r="8.3"/>
<circle cx="696.9" cy="1025.6" r="8.3"/>
<circle cx="696.9" cy="1029.3" r="8.3"/>
<circle cx="696.9" cy="1038.1" r="8.3"/>
<circle cx="696.9" cy="1105.3" r="8.3"/>
<circle cx="696.9" cy="1166.4" r="8.3"/>
<circle cx="721.0" cy="816.8" r="8.3"/>
<circle cx="721.0" cy="855.1" r="8.3"/>
<circle cx="721.0" cy="869.7" r="8.3"/>
<circle cx="721.0" cy="920.3" r="8.3"/>
<circle cx="721.0" cy="950.4" r="8.3"/>
<circle cx="721.0" cy="986.0" r="8.3"/>
<circle cx="721.0" cy="1011.8" r="8.3"/>
<circle cx="721.0" cy="1021.0" r="8.3"/>
<circle cx="721.0" cy="1036.8" r="8.3"/>
<circle cx="721.0" cy="1063.2" r="8.3"/>
</g>
<path d="M152.3,1304.5 L155.3,1296.6 L158.3,1288.9 L161.3,1281.4 L164.3,1274.0 L167.3,1266.8 L170.3,1259.8 L173.3,1253.0 L176.4,1246.3 L179.4,1239.7 L182.4,1233.4 L185.4,1227.2 L188.4,1221.1 L191.4,1215.2 L194.4,1209.5 L197.4,1203.9 L200.4,1198.5 L203.4,1193.2 L206.4,1188.1 L209.4,1183.1 L212.4,1178.2 L215.4,1173.5 L218.4,1169.0 L221.4,1164.5 L224.5,1160.2 L227.5,1156.1 L230.5,1152.1 L233.5,1148.2 L236.5,1144.4 L239.5,1140.8 L242.5,1137.2 L245.5,1133.9 L248.5,1130.6 L251.5,1127.4 L254.5,1124.4 L257.5,1121.5 L260.5,1118.7 L263.5,1116.0 L266.5,1113.4 L269.5,1111.0 L272.6,1108.6 L275.6,1106.4 L278.6,1104.2 L281.6,1102.2 L284.6,1100.2 L287.6,1098.4 L290.6,1096.6 L293.6,1095.0 L296.6,1093.4 L299.6,1091.9 L302.6,1090.5 L305.6,1089.2 L308.6,1088.0 L311.6,1086.9 L314.6,1085.9 L317.6,1084.9 L320.7,1084.0 L323.7,1083.2 L326.7,1082.5 L329.7,1081.8 L332.7,1081.2 L335.7,1080.7 L338.7,1080.2 L341.7,1079.9 L344.7,1079.5 L347.7,1079.3 L350.7,1079.1 L353.7,1078.9 L356.7,1078.8 L359.7,1078.8 L362.7,1078.8 L365.8,1078.9 L368.8,1079.0 L371.8,1079.2 L374.8,1079.4 L377.8,1079.7 L380.8,1080.0 L383.8,1080.4 L386.8,1080.8 L389.8,1081.2 L392.8,1081.6 L395.8,1082.1 L398.8,1082.7 L401.8,1083.2 L404.8,1083.8 L407.8,1084.4 L410.8,1085.0 L413.9,1085.7 L416.9,1086.4 L419.9,1087.1 L422.9,1087.8 L425.9,1088.5 L428.9,1089.3 L431.9,1090.0 L434.9,1090.8 L437.9,1091.6 L440.9,1092.4 L443.9,1093.1 L446.9,1093.9 L449.9,1094.7 L452.9,1095.5 L455.9,1096.3 L458.9,1097.1 L462.0,1097.9 L465.0,1098.6 L468.0,1099.4 L471.0,1100.1 L474.0,1100.9 L477.0,1101.6 L480.0,1102.3 L483.0,1103.0 L486.0,1103.7 L489.0,1104.3 L492.0,1104.9 L495.0,1105.5 L498.0,1106.1 L501.0,1106.6 L504.0,1107.1 L507.0,1107.6 L510.1,1108.0 L513.1,1108.4 L516.1,1108.8 L519.1,1109.1 L522.1,1109.4 L525.1,1109.7 L528.1,1109.8 L531.1,1110.0 L534.1,1110.1 L537.1,1110.1 L540.1,1110.1 L543.1,1110.1 L546.1,1109.9 L549.1,1109.8 L552.1,1109.5 L555.2,1109.2 L558.2,1108.9 L561.2,1108.4 L564.2,1108.0 L567.2,1107.4 L570.2,1106.8 L573.2,1106.0 L576.2,1105.3 L579.2,1104.4 L582.2,1103.5 L585.2,1102.5 L588.2,1101.4 L591.2,1100.2 L594.2,1098.9 L597.2,1097.6 L600.2,1096.1 L603.3,1094.6 L606.3,1093.0 L609.3,1091.3 L612.3,1089.5 L615.3,1087.5 L618.3,1085.5 L621.3,1083.4 L624.3,1081.2 L627.3,1078.9 L630.3,1076.5 L633.3,1073.9 L636.3,1071.3 L639.3,1068.5 L642.3,1065.7 L645.3,1062.7 L648.3,1059.6 L651.4,1056.4 L654.4,1053.0 L657.4,1049.5 L660.4,1046.0 L663.4,1042.2 L666.4,1038.4 L669.4,1034.4 L672.4,1030.3 L675.4,1026.1 L678.4,1021.7 L681.4,1017.2 L684.4,1012.5 L687.4,1007.7 L690.4,1002.8 L693.4,997.7 L696.4,992.5 L699.5,987.1 L702.5,981.6 L705.5,975.9 L708.5,970.1 L711.5,964.1 L714.5,957.9 L717.5,951.6 L720.5,945.2" fill="none" stroke="#228B22" stroke-width="7.5" stroke-linecap="butt" stroke-linejoin="round"/>
<line x1="1187.1" y1="1426.4" x2="1187.1" y2="788.0" stroke="#575757" stroke-width="2" stroke-dasharray="12.4 6.33"/>
<path d="M902.8,984.1 L905.8,985.7 L908.8,987.4 L911.8,989.0 L914.8,990.5 L917.8,992.1 L920.9,993.7 L923.9,995.3 L926.9,996.9 L929.9,998.4 L932.9,1000.0 L935.9,1001.6 L938.9,1003.1 L941.9,1004.7 L944.9,1006.2 L947.9,1007.8 L950.9,1009.3 L954.0,1010.9 L957.0,1012.4 L960.0,1013.9 L963.0,1015.5 L966.0,1017.0 L969.0,1018.5 L972.0,1020.0 L975.0,1021.6 L978.0,1023.1 L981.0,1024.6 L984.0,1026.1 L987.1,1027.6 L990.1,1029.1 L993.1,1030.7 L996.1,1032.2 L999.1,1033.7 L1002.1,1035.2 L1005.1,1036.7 L1008.1,1038.2 L1011.1,1039.7 L1014.1,1041.2 L1017.1,1042.7 L1020.2,1044.2 L1023.2,1045.7 L1026.2,1047.2 L1029.2,1048.7 L1032.2,1050.2 L1035.2,1051.7 L1038.2,1053.2 L1041.2,1054.7 L1044.2,1056.2 L1047.2,1057.7 L1050.2,1059.3 L1053.2,1060.8 L1056.3,1062.3 L1059.3,1063.8 L1062.3,1065.3 L1065.3,1066.8 L1068.3,1068.3 L1071.3,1069.9 L1074.3,1071.4 L1077.3,1072.9 L1080.3,1074.5 L1083.3,1076.0 L1086.3,1077.5 L1089.4,1079.1 L1092.4,1080.6 L1095.4,1082.2 L1098.4,1083.7 L1101.4,1085.3 L1104.4,1086.8 L1107.4,1088.4 L1110.4,1090.0 L1113.4,1091.5 L1116.4,1093.1 L1119.4,1094.7 L1122.5,1096.3 L1125.5,1097.9 L1128.5,1099.5 L1131.5,1101.1 L1134.5,1102.7 L1137.5,1104.3 L1140.5,1105.9 L1143.5,1107.5 L1146.5,1109.1 L1149.5,1110.8 L1152.5,1112.4 L1155.6,1114.1 L1158.6,1115.7 L1161.6,1117.4 L1164.6,1119.1 L1167.6,1120.7 L1170.6,1122.4 L1173.6,1124.1 L1176.6,1125.8 L1179.6,1127.5 L1182.6,1129.2 L1185.6,1130.9 L1188.7,1132.7 L1191.7,1134.4 L1194.7,1136.2 L1197.7,1137.9 L1200.7,1139.7 L1203.7,1141.4 L1206.7,1143.2 L1209.7,1145.0 L1212.7,1146.7 L1215.7,1148.5 L1218.7,1150.3 L1221.8,1152.1 L1224.8,1153.9 L1227.8,1155.7 L1230.8,1157.5 L1233.8,1159.3 L1236.8,1161.1 L1239.8,1163.0 L1242.8,1164.8 L1245.8,1166.6 L1248.8,1168.4 L1251.8,1170.3 L1254.9,1172.1 L1257.9,1173.9 L1260.9,1175.8 L1263.9,1177.6 L1266.9,1179.4 L1269.9,1181.3 L1272.9,1183.1 L1275.9,1185.0 L1278.9,1186.8 L1281.9,1188.6 L1284.9,1190.5 L1288.0,1192.3 L1291.0,1194.2 L1294.0,1196.0 L1297.0,1197.8 L1300.0,1199.7 L1303.0,1201.5 L1306.0,1203.3 L1309.0,1205.2 L1312.0,1207.0 L1315.0,1208.8 L1318.0,1210.7 L1321.1,1212.5 L1324.1,1214.3 L1327.1,1216.1 L1330.1,1217.9 L1333.1,1219.7 L1336.1,1221.5 L1339.1,1223.3 L1342.1,1225.1 L1345.1,1226.9 L1348.1,1228.7 L1351.1,1230.5 L1354.1,1232.3 L1357.2,1234.0 L1360.2,1235.8 L1363.2,1237.6 L1366.2,1239.3 L1369.2,1241.0 L1372.2,1242.8 L1375.2,1244.5 L1378.2,1246.2 L1381.2,1248.0 L1384.2,1249.7 L1387.2,1251.4 L1390.3,1253.1 L1393.3,1254.7 L1396.3,1256.4 L1399.3,1258.1 L1402.3,1259.7 L1405.3,1261.4 L1408.3,1263.0 L1411.3,1264.7 L1414.3,1266.3 L1417.3,1267.9 L1420.3,1269.5 L1423.4,1271.1 L1426.4,1272.6 L1429.4,1274.2 L1432.4,1275.7 L1435.4,1277.3 L1438.4,1278.8 L1441.4,1280.3 L1444.4,1281.8 L1447.4,1283.3 L1450.4,1284.8 L1453.4,1286.3 L1456.5,1287.7 L1459.5,1289.2 L1462.5,1290.6 L1465.5,1292.0 L1468.5,1293.4 L1471.5,1294.8 L1471.5,1391.9 L1468.5,1389.0 L1465.5,1386.1 L1462.5,1383.2 L1459.5,1380.3 L1456.5,1377.5 L1453.4,1374.7 L1450.4,1371.9 L1447.4,1369.2 L1444.4,1366.4 L1441.4,1363.7 L1438.4,1361.0 L1435.4,1358.3 L1432.4,1355.7 L1429.4,1353.1 L1426.4,1350.5 L1423.4,1347.9 L1420.3,1345.3 L1417.3,1342.8 L1414.3,1340.3 L1411.3,1337.8 L1408.3,1335.3 L1405.3,1332.8 L1402.3,1330.4 L1399.3,1327.9 L1396.3,1325.5 L1393.3,1323.1 L1390.3,1320.8 L1387.2,1318.4 L1384.2,1316.1 L1381.2,1313.8 L1378.2,1311.5 L1375.2,1309.2 L1372.2,1306.9 L1369.2,1304.6 L1366.2,1302.4 L1363.2,1300.2 L1360.2,1298.0 L1357.2,1295.8 L1354.1,1293.6 L1351.1,1291.4 L1348.1,1289.3 L1345.1,1287.1 L1342.1,1285.0 L1339.1,1282.9 L1336.1,1280.8 L1333.1,1278.7 L1330.1,1276.6 L1327.1,1274.5 L1324.1,1272.5 L1321.1,1270.4 L1318.0,1268.4 L1315.0,1266.4 L1312.0,1264.4 L1309.0,1262.4 L1306.0,1260.4 L1303.0,1258.4 L1300.0,1256.4 L1297.0,1254.4 L1294.0,1252.5 L1291.0,1250.5 L1288.0,1248.6 L1284.9,1246.6 L1281.9,1244.7 L1278.9,1242.8 L1275.9,1240.9 L1272.9,1238.9 L1269.9,1237.0 L1266.9,1235.1 L1263.9,1233.2 L1260.9,1231.4 L1257.9,1229.5 L1254.9,1227.6 L1251.8,1225.7 L1248.8,1223.8 L1245.8,1222.0 L1242.8,1220.1 L1239.8,1218.3 L1236.8,1216.4 L1233.8,1214.5 L1230.8,1212.7 L1227.8,1210.8 L1224.8,1209.0 L1221.8,1207.1 L1218.7,1205.3 L1215.7,1203.4 L1212.7,1201.6 L1209.7,1199.7 L1206.7,1197.9 L1203.7,1196.0 L1200.7,1194.2 L1197.7,1192.3 L1194.7,1190.5 L1191.7,1188.7 L1188.7,1186.8 L1185.6,1185.0 L1182.6,1183.1 L1179.6,1181.3 L1176.6,1179.5 L1173.6,1177.6 L1170.6,1175.8 L1167.6,1173.9 L1164.6,1172.1 L1161.6,1170.3 L1158.6,1168.4 L1155.6,1166.6 L1152.5,1164.8 L1149.5,1163.0 L1146.5,1161.1 L1143.5,1159.3 L1140.5,1157.5 L1137.5,1155.7 L1134.5,1153.8 L1131.5,1152.0 L1128.5,1150.2 L1125.5,1148.4 L1122.5,1146.6 L1119.4,1144.7 L1116.4,1142.9 L1113.4,1141.1 L1110.4,1139.3 L1107.4,1137.5 L1104.4,1135.7 L1101.4,1133.9 L1098.4,1132.1 L1095.4,1130.3 L1092.4,1128.5 L1089.4,1126.7 L1086.3,1124.9 L1083.3,1123.1 L1080.3,1121.3 L1077.3,1119.5 L1074.3,1117.7 L1071.3,1115.9 L1068.3,1114.1 L1065.3,1112.3 L1062.3,1110.6 L1059.3,1108.8 L1056.3,1107.0 L1053.2,1105.2 L1050.2,1103.4 L1047.2,1101.7 L1044.2,1099.9 L1041.2,1098.1 L1038.2,1096.3 L1035.2,1094.6 L1032.2,1092.8 L1029.2,1091.1 L1026.2,1089.3 L1023.2,1087.6 L1020.2,1085.8 L1017.1,1084.1 L1014.1,1082.4 L1011.1,1080.7 L1008.1,1079.0 L1005.1,1077.3 L1002.1,1075.6 L999.1,1074.0 L996.1,1072.3 L993.1,1070.7 L990.1,1069.1 L987.1,1067.5 L984.0,1066.0 L981.0,1064.4 L978.0,1062.9 L975.0,1061.4 L972.0,1060.0 L969.0,1058.5 L966.0,1057.1 L963.0,1055.7 L960.0,1054.4 L957.0,1053.0 L954.0,1051.7 L950.9,1050.5 L947.9,1049.2 L944.9,1048.0 L941.9,1046.9 L938.9,1045.8 L935.9,1044.7 L932.9,1043.6 L929.9,1042.6 L926.9,1041.7 L923.9,1040.7 L920.9,1039.8 L917.8,1039.0 L914.8,1038.2 L911.8,1037.5 L908.8,1036.8 L905.8,1036.1 L902.8,1035.5 Z" fill="#228B22" fill-opacity="0.2"/>
<g fill="#228B22" fill-opacity="0.5">
<circle cx="1471.5" cy="1294.0" r="8.3"/>
<circle cx="1471.5" cy="1297.0" r="8.3"/>
<circle cx="1471.5" cy="1320.0" r="8.3"/>
<circle cx="1471.5" cy="1322.0" r="8.3"/>
<circle cx="1471.5" cy="1349.5" r="8.3"/>
<circle cx="1471.5" cy="1357.0" r="8.3"/>
<circle cx="1471.5" cy="1362.0" r="8.3"/>
<circle cx="1471.5" cy="1376.0" r="8.3"/>
<circle cx="1471.5" cy="1397.0" r="8.3"/>
<circle cx="1471.5" cy="1397.0" r="8.3"/>
<circle cx="1268.6" cy="1123.5" r="8.3"/>
<circle cx="1268.6" cy="1153.7" r="8.3"/>
<circle cx="1268.6" cy="1189.6" r="8.3"/>
<circle cx="1268.6" cy="1199.2" r="8.3"/>
<circle cx="1268.6" cy="1205.9" r="8.3"/>
<circle cx="1268.6" cy="1210.4" r="8.3"/>
<circle cx="1268.6" cy="1227.2" r="8.3"/>
<circle cx="1268.6" cy="1253.0" r="8.3"/>
<circle cx="1268.6" cy="1259.7" r="8.3"/>
<circle cx="1268.6" cy="1280.3" r="8.3"/>
<circle cx="1100.3" cy="847.7" r="8.3"/>
<circle cx="1100.3" cy="890.3" r="8.3"/>
<circle cx="1100.3" cy="951.9" r="8.3"/>
<circle cx="1100.3" cy="960.6" r="8.3"/>
<circle cx="1100.3" cy="964.8" r="8.3"/>
<circle cx="1100.3" cy="983.2" r="8.3"/>
<circle cx="1100.3" cy="989.7" r="8.3"/>
<circle cx="1100.3" cy="989.7" r="8.3"/>
<circle cx="1100.3" cy="1004.8" r="8.3"/>
<circle cx="1100.3" cy="1025.8" r="8.3"/>
<circle cx="1196.1" cy="1134.5" r="8.3"/>
<circle cx="1196.1" cy="1188.5" r="8.3"/>
<circle cx="1196.1" cy="1192.5" r="8.3"/>
<circle cx="1196.1" cy="1205.5" r="8.3"/>
<circle cx="1196.1" cy="1218.5" r="8.3"/>
<circle cx="1196.1" cy="1221.8" r="8.3"/>
<circle cx="1196.1" cy="1232.7" r="8.3"/>
<circle cx="1196.1" cy="1248.4" r="8.3"/>
<circle cx="1196.1" cy="1263.5" r="8.3"/>
<circle cx="1196.1" cy="1301.0" r="8.3"/>
<circle cx="1019.1" cy="1058.3" r="8.3"/>
<circle cx="1019.1" cy="1080.6" r="8.3"/>
<circle cx="1019.1" cy="1082.9" r="8.3"/>
<circle cx="1019.1" cy="1103.4" r="8.3"/>
<circle cx="1019.1" cy="1115.9" r="8.3"/>
<circle cx="1019.1" cy="1124.4" r="8.3"/>
<circle cx="1019.1" cy="1128.1" r="8.3"/>
<circle cx="1019.1" cy="1153.3" r="8.3"/>
<circle cx="1019.1" cy="1181.5" r="8.3"/>
<circle cx="948.9" cy="1049.9" r="8.3"/>
<circle cx="948.9" cy="1072.1" r="8.3"/>
<circle cx="948.9" cy="1089.0" r="8.3"/>
<circle cx="948.9" cy="1095.1" r="8.3"/>
<circle cx="948.9" cy="1098.2" r="8.3"/>
<circle cx="948.9" cy="1104.3" r="8.3"/>
<circle cx="948.9" cy="1122.0" r="8.3"/>
<circle cx="998.7" cy="1069.1" r="8.3"/>
<circle cx="998.7" cy="1080.3" r="8.3"/>
<circle cx="998.7" cy="1091.3" r="8.3"/>
<circle cx="998.7" cy="1095.1" r="8.3"/>
<circle cx="998.7" cy="1099.7" r="8.3"/>
<circle cx="998.7" cy="1108.9" r="8.3"/>
<circle cx="998.7" cy="1134.2" r="8.3"/>
<circle cx="998.7" cy="1150.3" r="8.3"/>
<circle cx="998.7" cy="1157.2" r="8.3"/>
<circle cx="998.7" cy="1168.7" r="8.3"/>
<circle cx="928.9" cy="865.2" r="8.3"/>
<circle cx="928.9" cy="952.9" r="8.3"/>
<circle cx="928.9" cy="965.4" r="8.3"/>
<circle cx="928.9" cy="970.4" r="8.3"/>
<circle cx="928.9" cy="972.9" r="8.3"/>
<circle cx="928.9" cy="993.0" r="8.3"/>
<circle cx="928.9" cy="1000.5" r="8.3"/>
<circle cx="928.9" cy="1004.3" r="8.3"/>
<circle cx="928.9" cy="1067.7" r="8.3"/>
<circle cx="928.9" cy="1067.7" r="8.3"/>
<circle cx="910.9" cy="939.8" r="8.3"/>
<circle cx="910.9" cy="952.9" r="8.3"/>
<circle cx="910.9" cy="960.4" r="8.3"/>
<circle cx="910.9" cy="1019.3" r="8.3"/>
<circle cx="910.9" cy="1025.6" r="8.3"/>
<circle cx="910.9" cy="1029.3" r="8.3"/>
<circle cx="910.9" cy="1038.1" r="8.3"/>
<circle cx="910.9" cy="1105.3" r="8.3"/>
<circle cx="910.9" cy="1166.4" r="8.3"/>
<circle cx="902.6" cy="816.8" r="8.3"/>
<circle cx="902.6" cy="855.1" r="8.3"/>
<circle cx="902.6" cy="869.7" r="8.3"/>
<circle cx="902.6" cy="920.3" r="8.3"/>
<circle cx="902.6" cy="950.4" r="8.3"/>
<circle cx="902.6" cy="986.0" r="8.3"/>
<circle cx="902.6" cy="1011.8" r="8.3"/>
<circle cx="902.6" cy="1021.0" r="8.3"/>
<circle cx="902.6" cy="1036.8" r="8.3"/>
<circle cx="902.6" cy="1063.2" r="8.3"/>
</g>
<path d="M902.8,1008.0 L905.8,1009.4 L908.8,1010.8 L911.8,1012.2 L914.8,1013.6 L917.8,1015.0 L920.8,1016.5 L923.8,1017.9 L926.8,1019.3 L929.8,1020.8 L932.8,1022.2 L935.8,1023.7 L938.8,1025.1 L941.8,1026.6 L944.9,1028.0 L947.9,1029.5 L950.9,1030.9 L953.9,1032.4 L956.9,1033.9 L959.9,1035.4 L962.9,1036.8 L965.9,1038.3 L968.9,1039.8 L971.9,1041.3 L974.9,1042.8 L977.9,1044.3 L980.9,1045.8 L983.9,1047.3 L986.9,1048.8 L989.9,1050.3 L992.9,1051.8 L995.9,1053.4 L998.9,1054.9 L1001.9,1056.4 L1004.9,1058.0 L1007.9,1059.5 L1010.9,1061.0 L1013.9,1062.6 L1016.9,1064.1 L1019.9,1065.7 L1022.9,1067.2 L1026.0,1068.8 L1029.0,1070.4 L1032.0,1071.9 L1035.0,1073.5 L1038.0,1075.1 L1041.0,1076.7 L1044.0,1078.3 L1047.0,1079.8 L1050.0,1081.4 L1053.0,1083.0 L1056.0,1084.6 L1059.0,1086.2 L1062.0,1087.9 L1065.0,1089.5 L1068.0,1091.1 L1071.0,1092.7 L1074.0,1094.3 L1077.0,1096.0 L1080.0,1097.6 L1083.0,1099.3 L1086.0,1100.9 L1089.0,1102.5 L1092.0,1104.2 L1095.0,1105.9 L1098.0,1107.5 L1101.0,1109.2 L1104.0,1110.8 L1107.1,1112.5 L1110.1,1114.2 L1113.1,1115.9 L1116.1,1117.6 L1119.1,1119.3 L1122.1,1121.0 L1125.1,1122.7 L1128.1,1124.4 L1131.1,1126.1 L1134.1,1127.8 L1137.1,1129.5 L1140.1,1131.2 L1143.1,1132.9 L1146.1,1134.7 L1149.1,1136.4 L1152.1,1138.1 L1155.1,1139.9 L1158.1,1141.6 L1161.1,1143.4 L1164.1,1145.1 L1167.1,1146.9 L1170.1,1148.7 L1173.1,1150.4 L1176.1,1152.2 L1179.1,1154.0 L1182.1,1155.8 L1185.1,1157.5 L1188.2,1159.3 L1191.2,1161.1 L1194.2,1162.9 L1197.2,1164.7 L1200.2,1166.5 L1203.2,1168.4 L1206.2,1170.2 L1209.2,1172.0 L1212.2,1173.8 L1215.2,1175.7 L1218.2,1177.5 L1221.2,1179.3 L1224.2,1181.2 L1227.2,1183.0 L1230.2,1184.9 L1233.2,1186.7 L1236.2,1188.6 L1239.2,1190.5 L1242.2,1192.3 L1245.2,1194.2 L1248.2,1196.1 L1251.2,1198.0 L1254.2,1199.9 L1257.2,1201.8 L1260.2,1203.7 L1263.2,1205.6 L1266.2,1207.5 L1269.3,1209.4 L1272.3,1211.3 L1275.3,1213.2 L1278.3,1215.2 L1281.3,1217.1 L1284.3,1219.0 L1287.3,1221.0 L1290.3,1222.9 L1293.3,1224.9 L1296.3,1226.8 L1299.3,1228.8 L1302.3,1230.8 L1305.3,1232.7 L1308.3,1234.7 L1311.3,1236.7 L1314.3,1238.7 L1317.3,1240.7 L1320.3,1242.7 L1323.3,1244.7 L1326.3,1246.7 L1329.3,1248.7 L1332.3,1250.7 L1335.3,1252.7 L1338.3,1254.7 L1341.3,1256.8 L1344.3,1258.8 L1347.3,1260.8 L1350.4,1262.9 L1353.4,1264.9 L1356.4,1267.0 L1359.4,1269.0 L1362.4,1271.1 L1365.4,1273.2 L1368.4,1275.2 L1371.4,1277.3 L1374.4,1279.4 L1377.4,1281.5 L1380.4,1283.6 L1383.4,1285.7 L1386.4,1287.8 L1389.4,1289.9 L1392.4,1292.0 L1395.4,1294.1 L1398.4,1296.2 L1401.4,1298.4 L1404.4,1300.5 L1407.4,1302.6 L1410.4,1304.8 L1413.4,1306.9 L1416.4,1309.1 L1419.4,1311.2 L1422.4,1313.4 L1425.4,1315.6 L1428.4,1317.7 L1431.5,1319.9 L1434.5,1322.1 L1437.5,1324.3 L1440.5,1326.5 L1443.5,1328.7 L1446.5,1330.9 L1449.5,1333.1 L1452.5,1335.3 L1455.5,1337.5 L1458.5,1339.8 L1461.5,1342.0 L1464.5,1344.2 L1467.5,1346.5 L1470.5,1348.7" fill="none" stroke="#228B22" stroke-width="7.5" stroke-linecap="butt" stroke-linejoin="round"/>
<line x1="124.1" y1="33.0" x2="124.1" y2="672.8" stroke="#6f6f6f" stroke-width="2.00" stroke-linecap="butt"/>
<line x1="123.1" y1="671.8" x2="732.0" y2="671.8" stroke="#6f6f6f" stroke-width="2.00" stroke-linecap="butt"/>
<line x1="110.0" y1="174.0" x2="124.0" y2="174.0" stroke="#6f6f6f" stroke-width="2.00" stroke-linecap="butt"/>
<line x1="110.0" y1="370.8" x2="124.0" y2="370.8" stroke="#6f6f6f" stroke-width="2.00" stroke-linecap="butt"/>
<line x1="110.0" y1="568.3" x2="124.0" y2="568.3" stroke="#6f6f6f" stroke-width="2.00" stroke-linecap="butt"/>
<line x1="268.6" y1="672.0" x2="268.6" y2="685.7" stroke="#111" stroke-width="1.30" stroke-linecap="round"/>
<line x1="481.1" y1="672.0" x2="481.1" y2="685.7" stroke="#111" stroke-width="1.30" stroke-linecap="round"/>
<line x1="693.6" y1="672.0" x2="693.6" y2="685.7" stroke="#111" stroke-width="1.30" stroke-linecap="round"/>
<line x1="891.6" y1="33.0" x2="891.6" y2="672.5" stroke="#3c3c3c" stroke-width="1.40" stroke-linecap="butt"/>
<line x1="891.0" y1="671.8" x2="1500.0" y2="671.8" stroke="#6f6f6f" stroke-width="2.00" stroke-linecap="butt"/>
<line x1="878.0" y1="171.4" x2="891.6" y2="171.4" stroke="#111" stroke-width="1.30" stroke-linecap="butt"/>
<line x1="878.0" y1="363.7" x2="891.6" y2="363.7" stroke="#111" stroke-width="1.30" stroke-linecap="butt"/>
<line x1="878.0" y1="556.4" x2="891.6" y2="556.4" stroke="#111" stroke-width="1.30" stroke-linecap="butt"/>
<line x1="1000.4" y1="672.0" x2="1000.4" y2="685.7" stroke="#111" stroke-width="1.30" stroke-linecap="round"/>
<line x1="1156.0" y1="672.0" x2="1156.0" y2="685.7" stroke="#111" stroke-width="1.30" stroke-linecap="round"/>
<line x1="1312.0" y1="672.0" x2="1312.0" y2="685.7" stroke="#111" stroke-width="1.30" stroke-linecap="round"/>
<line x1="1467.8" y1="672.0" x2="1467.8" y2="685.7" stroke="#111" stroke-width="1.30" stroke-linecap="round"/>
<line x1="124.1" y1="788.0" x2="124.1" y2="1427.2" stroke="#6f6f6f" stroke-width="2.00" stroke-linecap="butt"/>
<line x1="123.1" y1="1426.5" x2="749.3" y2="1426.5" stroke="#3c3c3c" stroke-width="1.40" stroke-linecap="butt"/>
<line x1="110.0" y1="962.2" x2="124.0" y2="962.2" stroke="#3c3c3c" stroke-width="1.40" stroke-linecap="butt"/>
<line x1="110.0" y1="1182.3" x2="124.0" y2="1182.3" stroke="#3c3c3c" stroke-width="1.40" stroke-linecap="butt"/>
<line x1="110.0" y1="1402.9" x2="124.0" y2="1402.9" stroke="#3c3c3c" stroke-width="1.40" stroke-linecap="butt"/>
<line x1="272.7" y1="1426.5" x2="272.7" y2="1440.4" stroke="#111" stroke-width="1.30" stroke-linecap="round"/>
<line x1="491.6" y1="1426.5" x2="491.6" y2="1440.4" stroke="#111" stroke-width="1.30" stroke-linecap="round"/>
<line x1="710.0" y1="1426.5" x2="710.0" y2="1440.4" stroke="#111" stroke-width="1.30" stroke-linecap="round"/>
<line x1="874.4" y1="788.0" x2="874.4" y2="1427.2" stroke="#3c3c3c" stroke-width="1.40" stroke-linecap="butt"/>
<line x1="873.7" y1="1426.5" x2="1500.0" y2="1426.5" stroke="#3c3c3c" stroke-width="1.40" stroke-linecap="butt"/>
<line x1="860.6" y1="961.8" x2="874.4" y2="961.8" stroke="#6f6f6f" stroke-width="2.00" stroke-linecap="butt"/>
<line x1="860.6" y1="1182.3" x2="874.4" y2="1182.3" stroke="#6f6f6f" stroke-width="2.00" stroke-linecap="butt"/>
<line x1="860.6" y1="1402.9" x2="874.4" y2="1402.9" stroke="#6f6f6f" stroke-width="2.00" stroke-linecap="butt"/>
<line x1="985.9" y1="1426.5" x2="985.9" y2="1440.4" stroke="#111" stroke-width="1.30" stroke-linecap="round"/>
<line x1="1145.9" y1="1426.5" x2="1145.9" y2="1440.4" stroke="#111" stroke-width="1.30" stroke-linecap="round"/>
<line x1="1306.3" y1="1426.5" x2="1306.3" y2="1440.4" stroke="#111" stroke-width="1.30" stroke-linecap="round"/>
<line x1="1466.7" y1="1426.5" x2="1466.7" y2="1440.4" stroke="#111" stroke-width="1.30" stroke-linecap="round"/>
<text x="-0.04" y="33.96" font-size="41.00" font-weight="bold" textLength="21.05" lengthAdjust="spacingAndGlyphs" stroke="#000" stroke-width="1.0">a</text>
<text x="818.94" y="34.00" font-size="41.00" font-weight="bold" textLength="27.09" lengthAdjust="spacingAndGlyphs" stroke="#000" stroke-width="1.0">b</text>
<text x="-0.04" y="788.54" font-size="41.00" font-weight="bold" textLength="23.10" lengthAdjust="spacingAndGlyphs" stroke="#000" stroke-width="1.0">c</text>
<text x="819.20" y="788.54" font-size="41.00" font-weight="bold" textLength="27.43" lengthAdjust="spacingAndGlyphs" stroke="#000" stroke-width="1.0">d</text>
<text x="52.00" y="183.42" font-size="23.39" font-weight="normal" textLength="45.53" lengthAdjust="spacingAndGlyphs" stroke="#fff" stroke-width="0.2">900</text>
<text x="52.04" y="380.08" font-size="23.39" font-weight="normal" textLength="45.53" lengthAdjust="spacingAndGlyphs" stroke="#fff" stroke-width="0.2">600</text>
<text x="52.04" y="577.46" font-size="23.39" font-weight="normal" textLength="45.53" lengthAdjust="spacingAndGlyphs" stroke="#fff" stroke-width="0.2">300</text>
<text x="819.62" y="180.96" font-size="23.39" font-weight="normal" textLength="46.65" lengthAdjust="spacingAndGlyphs" stroke="#fff" stroke-width="0.2">900</text>
<text x="820.00" y="373.54" font-size="23.39" font-weight="normal" textLength="46.06" lengthAdjust="spacingAndGlyphs" stroke="#fff" stroke-width="0.2">600</text>
<text x="820.08" y="566.00" font-size="23.39" font-weight="normal" textLength="46.09" lengthAdjust="spacingAndGlyphs" stroke="#fff" stroke-width="0.2">300</text>
<text x="83.46" y="969.50" font-size="23.39" font-weight="normal" textLength="14.25" lengthAdjust="spacingAndGlyphs" stroke="#fff" stroke-width="0.2">4</text>
<text x="83.04" y="1190.08" font-size="23.39" font-weight="normal" textLength="15.84" lengthAdjust="spacingAndGlyphs" stroke="#fff" stroke-width="0.2">3</text>
<text x="83.04" y="1410.58" font-size="23.39" font-weight="normal" textLength="15.84" lengthAdjust="spacingAndGlyphs" stroke="#fff" stroke-width="0.2">2</text>
<text x="834.38" y="969.46" font-size="23.39" font-weight="normal" textLength="14.15" lengthAdjust="spacingAndGlyphs" stroke="#fff" stroke-width="0.2">4</text>
<text x="833.62" y="1191.50" font-size="23.39" font-weight="normal" textLength="14.72" lengthAdjust="spacingAndGlyphs" stroke="#fff" stroke-width="0.2">3</text>
<text x="834.58" y="1411.92" font-size="23.39" font-weight="normal" textLength="13.69" lengthAdjust="spacingAndGlyphs" stroke="#fff" stroke-width="0.2">2</text>
<text x="254.00" y="715.00" font-size="23.39" font-weight="normal" textLength="29.10" lengthAdjust="spacingAndGlyphs" stroke="#fff" stroke-width="0.2">20</text>
<text x="466.42" y="714.96" font-size="23.39" font-weight="normal" textLength="29.55" lengthAdjust="spacingAndGlyphs" stroke="#fff" stroke-width="0.2">40</text>
<text x="678.50" y="714.96" font-size="23.39" font-weight="normal" textLength="30.04" lengthAdjust="spacingAndGlyphs" stroke="#fff" stroke-width="0.2">60</text>
<text x="985.54" y="714.54" font-size="23.39" font-weight="normal" textLength="29.57" lengthAdjust="spacingAndGlyphs" stroke="#fff" stroke-width="0.2">50</text>
<text x="1133.74" y="714.92" font-size="23.39" font-weight="normal" textLength="42.64" lengthAdjust="spacingAndGlyphs" stroke="#fff" stroke-width="0.2">100</text>
<text x="1291.20" y="714.92" font-size="23.39" font-weight="normal" textLength="40.16" lengthAdjust="spacingAndGlyphs" stroke="#fff" stroke-width="0.2">150</text>
<text x="1444.66" y="714.92" font-size="23.39" font-weight="normal" textLength="45.66" lengthAdjust="spacingAndGlyphs" stroke="#fff" stroke-width="0.2">200</text>
<text x="258.00" y="1469.46" font-size="23.39" font-weight="normal" textLength="28.54" lengthAdjust="spacingAndGlyphs" stroke="#fff" stroke-width="0.2">20</text>
<text x="476.46" y="1469.46" font-size="23.39" font-weight="normal" textLength="31.19" lengthAdjust="spacingAndGlyphs" stroke="#fff" stroke-width="0.2">40</text>
<text x="693.74" y="1469.46" font-size="23.39" font-weight="normal" textLength="31.66" lengthAdjust="spacingAndGlyphs" stroke="#fff" stroke-width="0.2">60</text>
<text x="971.12" y="1469.50" font-size="23.39" font-weight="normal" textLength="30.16" lengthAdjust="spacingAndGlyphs" stroke="#fff" stroke-width="0.2">50</text>
<text x="1124.70" y="1469.50" font-size="23.39" font-weight="normal" textLength="41.67" lengthAdjust="spacingAndGlyphs" stroke="#fff" stroke-width="0.2">100</text>
<text x="1284.70" y="1469.50" font-size="23.39" font-weight="normal" textLength="41.19" lengthAdjust="spacingAndGlyphs" stroke="#fff" stroke-width="0.2">150</text>
<text x="1443.58" y="1469.50" font-size="23.39" font-weight="normal" textLength="45.06" lengthAdjust="spacingAndGlyphs" stroke="#fff" stroke-width="0.2">200</text>
<text x="334.36" y="1509.36" font-size="25.40" font-weight="normal" textLength="206.06" lengthAdjust="spacingAndGlyphs" stroke="#fff" stroke-width="0.2">Forest cover (%)</text>
<text x="1064.36" y="1509.36" font-size="25.40" font-weight="normal" textLength="246.56" lengthAdjust="spacingAndGlyphs" stroke="#fff" stroke-width="0.2">Forest isolation (m)</text>
<text transform="translate(23.34,460.50) rotate(-90)" font-size="28.20" font-weight="normal" textLength="216.51" lengthAdjust="spacingAndGlyphs" stroke="#fff" stroke-width="0.2">Number of seeds</text>
<text transform="translate(57.74,1252.00) rotate(-90)" font-size="28.20" font-weight="normal" textLength="290.52" lengthAdjust="spacingAndGlyphs" stroke="#fff" stroke-width="0.2">Potential biomass (Mg)</text>
</svg></body></html>
